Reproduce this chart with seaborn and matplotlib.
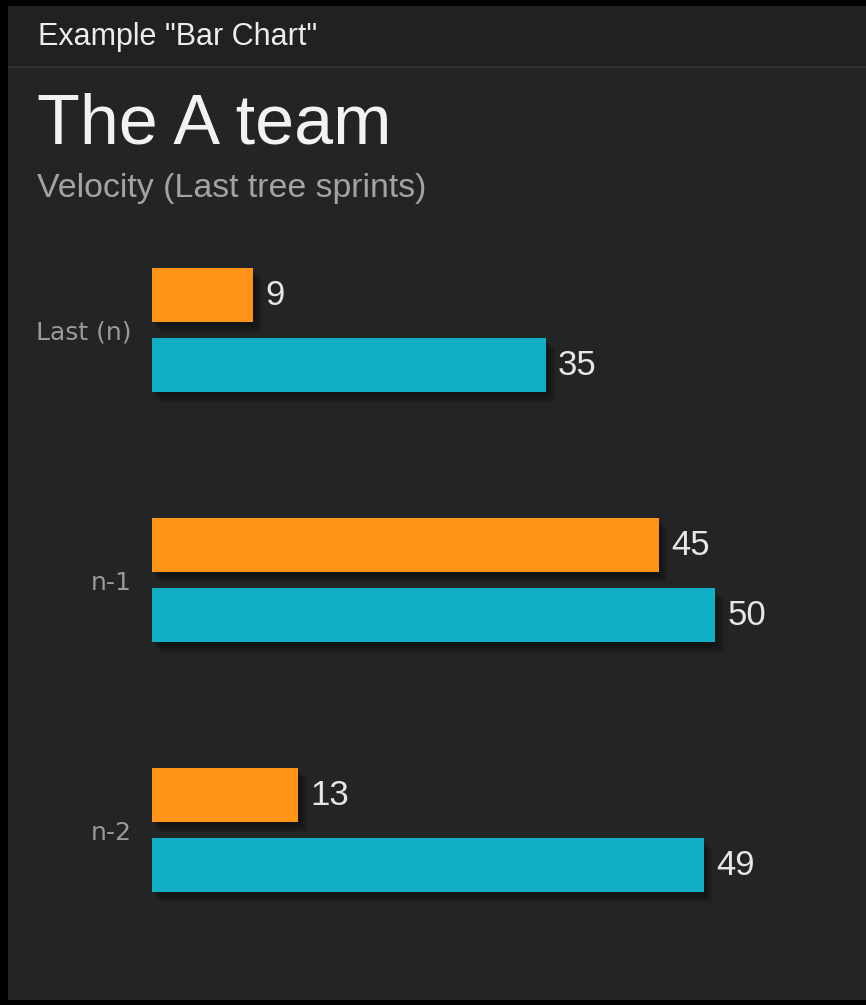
import pandas as pd
import matplotlib.pyplot as plt
import matplotlib.patheffects as pe
from matplotlib.patches import Rectangle
import seaborn as sns

sprints = ["Last (n)", "n-1", "n-2"]
series_names = ["Serie 1", "Serie 2"]
serie_1 = [9, 45, 13]
serie_2 = [35, 50, 49]

ORANGE = "#FF9419"
TEAL = "#11AFC7"
PANEL = "#232426"

df = pd.DataFrame({
    "sprint": sprints * 2,
    "serie": [series_names[0]] * 3 + [series_names[1]] * 3,
    "value": serie_1 + serie_2,
})

W, H = 866, 1005
fig = plt.figure(figsize=(W / 100, H / 100), dpi=100, facecolor="black")

# panel + header
fig.patches.append(Rectangle((8 / W, 5 / H), 1, 1 - 11 / H, transform=fig.transFigure,
                             facecolor=PANEL, edgecolor="none", zorder=-10))
fig.patches.append(Rectangle((8 / W, 1 - 66 / H), 1, 60 / H, transform=fig.transFigure,
                             facecolor="#202123", edgecolor="none", zorder=-10))
fig.patches.append(Rectangle((8 / W, 1 - 68 / H), 1, 2 / H, transform=fig.transFigure,
                             facecolor="#2D2E30", edgecolor="none", zorder=-10))

fig.text(38 / W, 1 - 45 / H, 'Example "Bar Chart"', fontsize=22, color="#EDEDED",
         family="Liberation Sans", va="baseline")
fig.text(37 / W, 1 - 143 / H, "The A team", fontsize=50.4, color="#F2F2F2",
         family="Liberation Sans", va="baseline")
fig.text(37 / W, 1 - 197 / H, "Velocity (Last tree sprints)", fontsize=24.4, color="#A3A3A3",
         family="Liberation Sans", va="baseline")

ax = fig.add_axes([152 / W, (H - 955) / H, (828 - 152) / W, 750 / H])
ax.set_facecolor("none")

sns.barplot(data=df, y="sprint", x="value", hue="serie", orient="h",
            palette=[ORANGE, TEAL], saturation=1, width=0.56, gap=0.2286,
            legend=False, ax=ax)

# soft drop shadow
shadow = [pe.SimplePatchShadow(offset=(o, -o - 1), shadow_rgbFace="black", alpha=0.12)
          for o in (1.5, 3, 4.5, 6)] + [pe.Normal()]
for bar in ax.patches:
    bar.set_path_effects(shadow)

for cont in ax.containers:
    ax.bar_label(cont, padding=8.5, fontsize=25, color="#E6E6E6", family="Liberation Sans")

ax.set_xlim(0, 60)
ax.set_ylim(2.5, -0.5)
ax.set_xlabel("")
ax.set_ylabel("")
ax.set_xticks([])
ax.tick_params(axis="y", length=0, pad=14.4, labelsize=18, labelcolor="#9A9A9A")
for s in ax.spines.values():
    s.set_visible(False)

plt.savefig("out.png", dpi=100, facecolor="black")
plt.close()
